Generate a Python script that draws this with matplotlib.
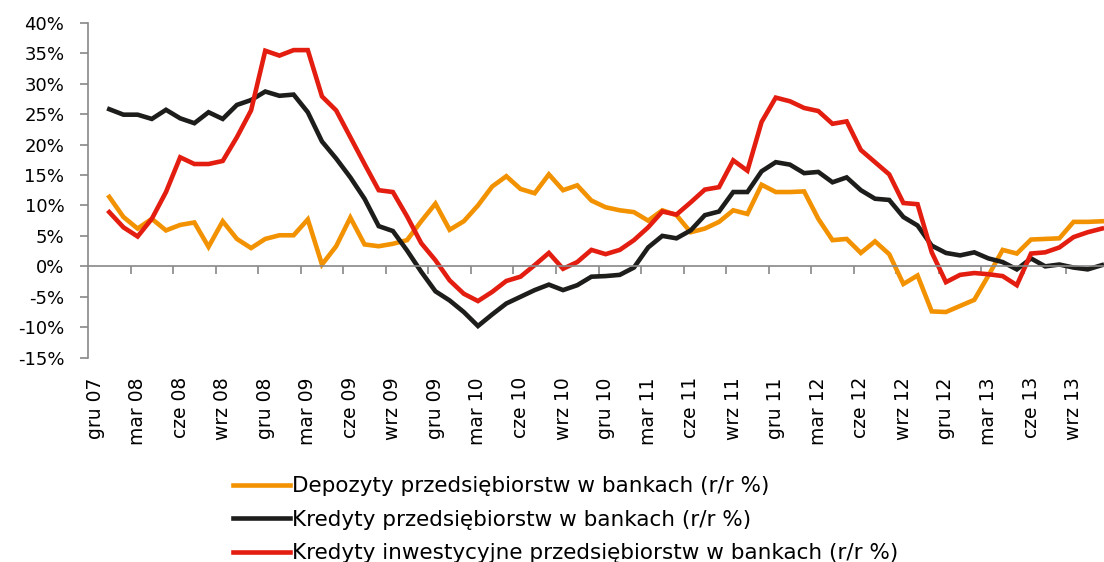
import numpy as np
import matplotlib
matplotlib.use("Agg")
import matplotlib.pyplot as plt

# Categories: monthly from gru 07 (index 0) to lis 13 (index 71); data starts sty 08 (index 1)
tick_labels = ["gru 07", "mar 08", "cze 08", "wrz 08", "gru 08", "mar 09", "cze 09", "wrz 09",
               "gru 09", "mar 10", "cze 10", "wrz 10", "gru 10", "mar 11", "cze 11", "wrz 11",
               "gru 11", "mar 12", "cze 12", "wrz 12", "gru 12", "mar 13", "cze 13", "wrz 13"]
n_categories = 72
first_data_index = 1

depozyty = [11.4, 8.1, 6.2, 7.8, 5.9, 6.8, 7.2, 3.2, 7.4, 4.5, 3.0, 4.5, 5.1, 5.1, 7.7, 0.3,
            3.3, 8.0, 3.6, 3.3, 3.7, 4.3, 7.4, 10.3, 6.0, 7.4, 10.0, 13.1, 14.8, 12.7, 12.0,
            15.1, 12.5, 13.3, 10.8, 9.7, 9.2, 8.9, 7.5, 9.2, 8.4, 5.6, 6.2, 7.3, 9.2, 8.6,
            13.4, 12.2, 12.2, 12.3, 7.8, 4.3, 4.5, 2.2, 4.1, 2.0, -2.9, -1.5, -7.4, -7.5,
            -6.5, -5.5, -1.5, 2.7, 2.1, 4.4, 4.5, 4.6, 7.3, 7.3, 7.4]

kredyty = [25.8, 24.9, 24.9, 24.2, 25.7, 24.3, 23.5, 25.3, 24.2, 26.5, 27.3, 28.7, 28.0, 28.2,
           25.3, 20.5, 17.7, 14.6, 11.1, 6.6, 5.8, 2.6, -0.9, -4.1, -5.6, -7.5, -9.8, -7.9,
           -6.1, -5.0, -3.9, -3.0, -3.9, -3.1, -1.7, -1.6, -1.4, -0.2, 3.1, 5.0, 4.6, 5.9,
           8.4, 9.0, 12.2, 12.2, 15.6, 17.1, 16.7, 15.3, 15.5, 13.8, 14.6, 12.5, 11.1, 10.9,
           8.1, 6.7, 3.4, 2.2, 1.8, 2.3, 1.3, 0.7, -0.5, 1.3, 0.0, 0.3, -0.2, -0.5, 0.2]

inwestycyjne = [8.9, 6.4, 4.9, 7.8, 12.2, 17.9, 16.8, 16.8, 17.3, 21.2, 25.6, 35.4, 34.6, 35.5,
                35.5, 27.9, 25.6, 21.2, 16.8, 12.5, 12.2, 8.2, 3.8, 1.0, -2.3, -4.5, -5.7, -4.2,
                -2.4, -1.7, 0.2, 2.2, -0.4, 0.7, 2.7, 2.0, 2.7, 4.3, 6.4, 9.0, 8.5, 10.5, 12.6,
                13.0, 17.4, 15.7, 23.7, 27.7, 27.1, 26.0, 25.5, 23.4, 23.8, 19.1, 17.1, 15.1,
                10.4, 10.2, 2.3, -2.6, -1.4, -1.1, -1.3, -1.6, -3.1, 2.1, 2.3, 3.1, 4.8, 5.6, 6.2]

series_labels = ["Depozyty przedsiębiorstw w bankach (r/r %)",
                 "Kredyty przedsiębiorstw w bankach (r/r %)",
                 "Kredyty inwestycyjne przedsiębiorstw w bankach (r/r %)"]
colors = ["#F39200", "#1D1D1B", "#E31E10"]

y_ticks = [-15, -10, -5, 0, 5, 10, 15, 20, 25, 30, 35, 40]

W, H = 1104, 562
fig = plt.figure(figsize=(W / 100, H / 100), dpi=100)
plt.rcParams['font.family'] = ['DejaVu Sans']

left_px, right_px, top_px, bottom_px = 88, 1109, 22.7, 357.7
ax = fig.add_axes([left_px / W, 1 - bottom_px / H, (right_px - left_px) / W, (bottom_px - top_px) / H])

x = np.arange(first_data_index, first_data_index + len(depozyty))
handles = []
for vals, col, lab in zip([depozyty, kredyty, inwestycyjne], colors, series_labels):
    h, = ax.plot(x, vals, color=col, lw=3.3, solid_joinstyle='miter', label=lab, clip_on=False)
    handles.append(h)

ax.set_xlim(-0.5, n_categories - 0.5)
ax.set_ylim(-15, 40)

axis_col = "#888888"
for s in ["top", "right"]:
    ax.spines[s].set_visible(False)
ax.spines["left"].set_color(axis_col)
ax.spines["left"].set_linewidth(1.2)
ax.spines["bottom"].set_position(("data", 0))
ax.spines["bottom"].set_color(axis_col)
ax.spines["bottom"].set_linewidth(1.2)

ax.set_yticks(y_ticks)
ax.set_yticklabels([f"{v}%" for v in y_ticks])
ax.tick_params(axis="y", direction="out", length=6, width=1.2, color=axis_col,
               labelsize=13, pad=11, labelcolor="#000000")

# tick marks at category group boundaries on the zero line
ax.set_xticks(np.arange(2.5, n_categories - 0.5, 3))
ax.tick_params(axis="x", direction="out", length=6, width=1.2, color=axis_col, labelbottom=False)

# category labels below the plot area
sec = ax.secondary_xaxis("bottom")
sec.set_xticks(np.arange(0, n_categories, 3)[:len(tick_labels)])
sec.set_xticklabels(tick_labels, rotation=90)
sec.tick_params(length=0, labelsize=13.5, pad=14)
sec.spines["bottom"].set_visible(False)

leg = fig.legend(handles=handles, labels=series_labels, loc="upper left",
                 bbox_to_anchor=(233 / W, 1 - 476.5 / H), frameon=False, fontsize=15.5,
                 handlelength=2.65, handletextpad=0.1, labelspacing=0.62, borderpad=0,
                 borderaxespad=0)

fig.savefig("out.png", dpi=100)
